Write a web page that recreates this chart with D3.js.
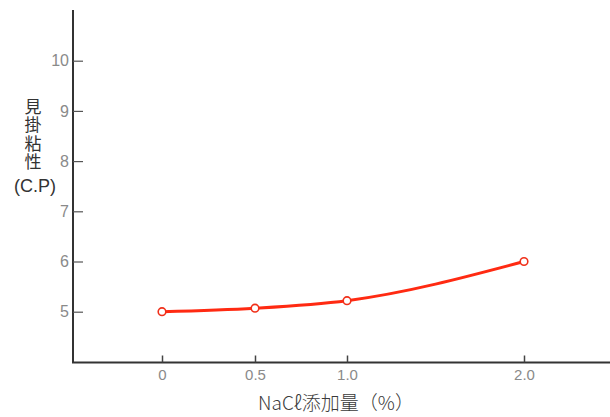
<!DOCTYPE html>
<html><head><meta charset="utf-8">
<script src="https://cdn.jsdelivr.net/npm/d3@7"></script>
<style>body{margin:0;background:#fff}svg{display:block}</style>
</head><body>
<script>
const xValues = [0, 0.5, 1.0, 2.0];
const viscosity = [5.0, 5.07, 5.22, 6.0];
const xTickLabels = ["0", "0.5", "1.0", "2.0"];
const yTicks = [5, 6, 7, 8, 9, 10];
const yLabelText = "見掛粘性";
const yLabelUnit = "(C.P)";
const xLabel = "NaCℓ添加量（%）";

const W = 610, H = 417;
const svg = d3.select("body").append("svg").attr("width", W).attr("height", H);

const x = d3.scaleLinear().domain([0, 0.5, 1.0, 2.0]).range([162, 255, 347, 524]);
const y = d3.scaleLinear().domain([5, 10]).range([311.7, 60.7]);
const axisX0 = 73, axisY0 = 362.5;

// axes lines
svg.append("line").attr("x1", axisX0).attr("x2", axisX0).attr("y1", 10).attr("y2", axisY0)
  .attr("stroke", "#333").attr("stroke-width", 2);
svg.append("line").attr("x1", axisX0 - 1).attr("x2", W).attr("y1", axisY0).attr("y2", axisY0)
  .attr("stroke", "#333").attr("stroke-width", 2);

// y ticks
const yAxis = svg.append("g").attr("transform", `translate(${axisX0},0)`)
  .call(d3.axisRight(y).tickValues(yTicks).tickSize(10).tickFormat(d3.format("d")));
yAxis.select(".domain").remove();
yAxis.selectAll(".tick line").attr("stroke", "#555").attr("stroke-width", 1.2);
yAxis.selectAll(".tick text").attr("x", -4).attr("text-anchor", "end")
  .attr("fill", "#8a8a8a").style("font-family", "Liberation Sans, Arial, sans-serif").style("font-size", "16px");

// x ticks
const xAxis = svg.append("g").attr("transform", `translate(0,${axisY0})`)
  .call(d3.axisTop(x).tickValues(xValues).tickSize(7).tickFormat((d, i) => xTickLabels[i]));
xAxis.select(".domain").remove();
xAxis.selectAll(".tick line").attr("stroke", "#444").attr("stroke-width", 1.5);
xAxis.selectAll(".tick text").attr("y", 17).attr("dy", "0").attr("fill", "#8a8a8a")
  .style("font-family", "Liberation Sans, Arial, sans-serif").style("font-size", "15px");

// line
const pts = xValues.map((v, i) => [v, viscosity[i]]);
svg.append("path").datum(pts)
  .attr("d", d3.line().x(d => x(d[0])).y(d => y(d[1])).curve(d3.curveMonotoneX))
  .attr("fill", "none").attr("stroke", "#ff2a12").attr("stroke-width", 3);
svg.selectAll("circle.pt").data(pts).join("circle")
  .attr("cx", d => x(d[0])).attr("cy", d => y(d[1])).attr("r", 3.8)
  .attr("fill", "#fff").attr("stroke", "#f0301a").attr("stroke-width", 1.6);

// y label: vertical text
const fontJP = "'Noto Sans CJK JP', sans-serif";
svg.append("text").attr("x", 33).attr("y", 98)
  .style("writing-mode", "vertical-rl").style("text-orientation", "upright")
  .style("letter-spacing", "1.5px")
  .attr("fill", "#333").style("font-family", fontJP).style("font-size", "17px").text(yLabelText);
svg.append("text").attr("x", 35).attr("y", 192).attr("text-anchor", "middle")
  .attr("fill", "#333").style("font-family", "Liberation Sans, Arial, sans-serif").style("font-weight", "300")
  .style("font-size", "18px").text(yLabelUnit);

// x label
svg.append("text").attr("x", 336).attr("y", 410).attr("text-anchor", "middle")
  .attr("fill", "#3a3a3a").style("font-family", fontJP).style("font-weight", "300").style("font-size", "19px").text(xLabel);
</script>
</body></html>
